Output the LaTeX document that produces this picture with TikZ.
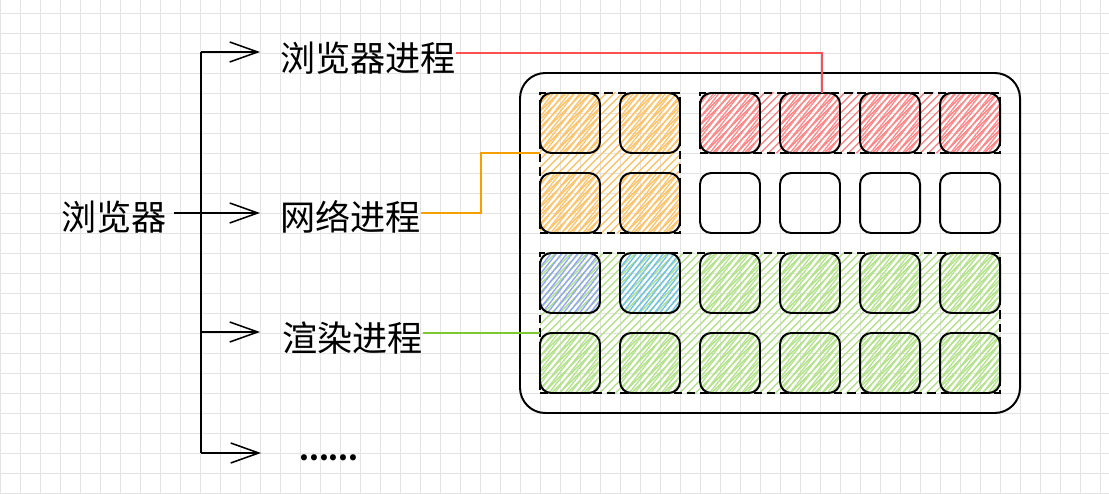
\documentclass[tikz,border=0pt]{standalone}
\usepackage{fontspec}
\setmainfont{Noto Sans CJK SC}
\usetikzlibrary{shapes,calc,arrows.meta,patterns.meta}
\definecolor{gridgray}{HTML}{E3E3E3}
\definecolor{hatchorange}{HTML}{FFC46E}
\definecolor{hatchred}{HTML}{FF8A8A}
\definecolor{hatchgreen}{HTML}{B5E38E}
\definecolor{hatchviolet}{HTML}{8FA6F5}
\definecolor{hatchblue}{HTML}{6EC1F0}
\definecolor{wirered}{HTML}{FA5252}
\definecolor{wireorange}{HTML}{F5A000}
\definecolor{wiregreen}{HTML}{7DC832}
\tikzset{
  lbl/.style={font=\fontsize{25}{30}\selectfont,inner sep=0pt},
  cell/.style={draw,line width=1.4pt,rounded corners=8pt,minimum width=1.5cm,minimum height=1.5cm,inner sep=0pt,outer sep=0pt},
  grp/.style={draw,line width=1.4pt,dash pattern=on 6pt off 3.5pt,inner sep=0pt,outer sep=0pt},
  hatch/.style={pattern={Lines[angle=45,distance=4pt,line width=1.1pt]},pattern color=#1},
  dhatch/.style={pattern={Lines[angle=52,distance=3pt,line width=1pt]},pattern color=#1},
  arr/.style={-{Straight Barb[length=7mm,width=5mm]},line width=1.1pt},
  wire/.style={line width=1.2pt,draw=#1}
}

\begin{document}
\begin{tikzpicture}[x=0.5cm,y=0.5cm]
  \useasboundingbox[fill=white] (0,-1) rectangle (55.45,23.65);
  \draw[gridgray,line width=0.7pt,step=0.5cm] (0,-1) grid (55.45,23.65);
  \node[draw,line width=1.4pt,rounded corners=18pt,minimum width=12.5cm,minimum height=8.5cm] (pad) at (38.5,11.5) {};
  \node[grp,hatch=hatchorange,minimum width=3.5cm,minimum height=3.5cm] (og) at (30.5,15.5) {};
  \node[grp,hatch=hatchred,minimum width=7.5cm,minimum height=1.5cm] (rg) at (42.5,17.5) {};
  \node[grp,hatch=hatchgreen,minimum width=11.5cm,minimum height=3.5cm] (gg) at (38.5,7.5) {};
  \foreach \i in {1,2} \foreach \j in {1,2}
    \node[cell,dhatch=hatchorange] (c\i\j) at (24.5+4*\i,21.5-4*\j) {};
  \foreach \i in {3,...,6} {
    \node[cell,dhatch=hatchred] (c\i1) at (24.5+4*\i,17.5) {};
    \node[cell] (c\i2) at (24.5+4*\i,13.5) {};
    \node[cell,dhatch=hatchgreen] (c\i3) at (24.5+4*\i,9.5) {};
  }
  \node[cell,dhatch=hatchviolet] (c13) at (28.5,9.5) {};
  \node[cell,dhatch=hatchblue] (c23) at (32.5,9.5) {};
  \foreach \i in {1,...,6}
    \node[cell,dhatch=hatchgreen] (c\i4) at (24.5+4*\i,5.5) {};

  \node[lbl] (browser) at (5.7,12.8) {浏览器};
  \node[lbl,anchor=west] (bproc) at (14,20.75) {浏览器进程};
  \node[lbl,anchor=west] (nproc) at (14,12.8) {网络进程};
  \node[lbl,anchor=west] (rproc) at (14.1,6.75) {渲染进程};
  \node[lbl,anchor=west,font=\fontsize{20}{24}\selectfont\bfseries] (more) at (14.95,0.75) {......};

  \coordinate (T) at (10.05,21.05);
  \coordinate (B) at (10.05,1);
  \draw[line width=1.1pt] (T) -- (B);
  \draw[arr] (T) -- ($(bproc.west)+(-1,0.3)$);
  \draw[arr] ($(browser.east)+(0.35,0.2)$) -- ($(nproc.west)+(-1,0.2)$);
  \draw[arr] (T |- rproc.west) ++(0,0.3) -- ($(rproc.west)+(-1.1,0.3)$);
  \draw[arr] (B) -- ($(more.west)+(-1.9,0.25)$);

  \draw[wire=wirered] ($(bproc.east)+(0,0.25)$) -| ($(c41.north)+(0.6,0)$);
  \draw[wire=wireorange] ($(nproc.east)+(0,0.2)$) -- ++(3,0) |- ($(og.north west)+(0,-3)$);
  \coordinate (g0) at ($(rproc.east)+(0,0.25)$);
  \draw[wire=wiregreen] (g0) -- (g0 -| gg.west);
\end{tikzpicture}
\end{document}
